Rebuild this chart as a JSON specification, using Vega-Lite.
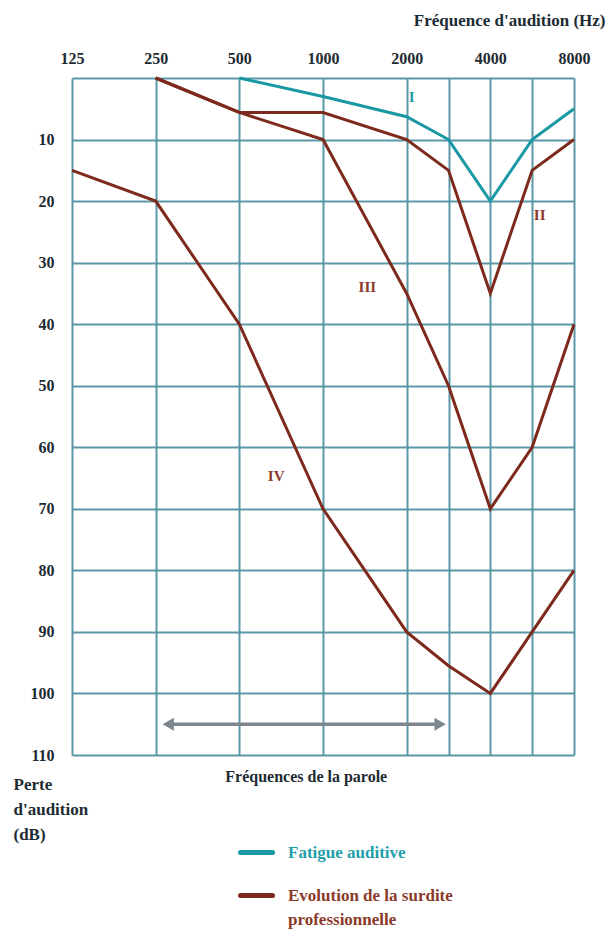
{
  "$schema": "https://vega.github.io/schema/vega-lite/v6.json",
  "width": 502,
  "height": 677,
  "autosize": {"type": "none"},
  "padding": {"left": 72, "top": 78, "right": 38, "bottom": 178},
  "background": "white",
  "config": {"view": {"stroke": null}, "font": "Liberation Serif"},
  "datasets": {
    "curves": [
      {"curve": "I", "type": "Fatigue auditive", "freq": 500, "pos": 2, "db": 0},
      {"curve": "I", "type": "Fatigue auditive", "freq": 1000, "pos": 3, "db": 3},
      {"curve": "I", "type": "Fatigue auditive", "freq": 2000, "pos": 4, "db": 6.3},
      {"curve": "I", "type": "Fatigue auditive", "freq": 3000, "pos": 4.5, "db": 10},
      {"curve": "I", "type": "Fatigue auditive", "freq": 4000, "pos": 5, "db": 20},
      {"curve": "I", "type": "Fatigue auditive", "freq": 6000, "pos": 5.5, "db": 10},
      {"curve": "I", "type": "Fatigue auditive", "freq": 8000, "pos": 6, "db": 5},
      {"curve": "II", "type": "Evolution de la surdite professionnelle", "freq": 250, "pos": 1, "db": 0},
      {"curve": "II", "type": "Evolution de la surdite professionnelle", "freq": 500, "pos": 2, "db": 5.6},
      {"curve": "II", "type": "Evolution de la surdite professionnelle", "freq": 1000, "pos": 3, "db": 5.6},
      {"curve": "II", "type": "Evolution de la surdite professionnelle", "freq": 2000, "pos": 4, "db": 10},
      {"curve": "II", "type": "Evolution de la surdite professionnelle", "freq": 3000, "pos": 4.5, "db": 15},
      {"curve": "II", "type": "Evolution de la surdite professionnelle", "freq": 4000, "pos": 5, "db": 35},
      {"curve": "II", "type": "Evolution de la surdite professionnelle", "freq": 6000, "pos": 5.5, "db": 15},
      {"curve": "II", "type": "Evolution de la surdite professionnelle", "freq": 8000, "pos": 6, "db": 10},
      {"curve": "III", "type": "Evolution de la surdite professionnelle", "freq": 250, "pos": 1, "db": 0},
      {"curve": "III", "type": "Evolution de la surdite professionnelle", "freq": 500, "pos": 2, "db": 5.6},
      {"curve": "III", "type": "Evolution de la surdite professionnelle", "freq": 1000, "pos": 3, "db": 10},
      {"curve": "III", "type": "Evolution de la surdite professionnelle", "freq": 2000, "pos": 4, "db": 35},
      {"curve": "III", "type": "Evolution de la surdite professionnelle", "freq": 3000, "pos": 4.5, "db": 50},
      {"curve": "III", "type": "Evolution de la surdite professionnelle", "freq": 4000, "pos": 5, "db": 70},
      {"curve": "III", "type": "Evolution de la surdite professionnelle", "freq": 6000, "pos": 5.5, "db": 60},
      {"curve": "III", "type": "Evolution de la surdite professionnelle", "freq": 8000, "pos": 6, "db": 40},
      {"curve": "IV", "type": "Evolution de la surdite professionnelle", "freq": 125, "pos": 0, "db": 15},
      {"curve": "IV", "type": "Evolution de la surdite professionnelle", "freq": 250, "pos": 1, "db": 20},
      {"curve": "IV", "type": "Evolution de la surdite professionnelle", "freq": 500, "pos": 2, "db": 40},
      {"curve": "IV", "type": "Evolution de la surdite professionnelle", "freq": 1000, "pos": 3, "db": 70},
      {"curve": "IV", "type": "Evolution de la surdite professionnelle", "freq": 2000, "pos": 4, "db": 90},
      {"curve": "IV", "type": "Evolution de la surdite professionnelle", "freq": 3000, "pos": 4.5, "db": 95.5},
      {"curve": "IV", "type": "Evolution de la surdite professionnelle", "freq": 4000, "pos": 5, "db": 100},
      {"curve": "IV", "type": "Evolution de la surdite professionnelle", "freq": 6000, "pos": 5.5, "db": 90},
      {"curve": "IV", "type": "Evolution de la surdite professionnelle", "freq": 8000, "pos": 6, "db": 80}
    ],
    "labels": [
      {"curve": "I", "pos": 4.06, "db": 3.1},
      {"curve": "II", "pos": 5.59, "db": 22.3},
      {"curve": "III", "pos": 3.53, "db": 34},
      {"curve": "IV", "pos": 2.44, "db": 64.7}
    ],
    "arrow": [
      {"end": "left", "pos": 1.15, "db": 105},
      {"end": "right", "pos": 4.4, "db": 105}
    ],
    "notes": [
      {"text": "Fréquences de la parole", "pos": 2.8, "db": 113.6}
    ]
  },
  "layer": [
    {
      "data": {"name": "curves"},
      "mark": {"type": "line", "strokeWidth": 3},
      "encoding": {
        "x": {
          "field": "pos", "type": "quantitative",
          "scale": {"domain": [0, 6], "nice": false, "zero": false},
          "axis": {
            "orient": "top",
            "values": [0, 1, 2, 3, 4, 4.5, 5, 5.5, 6],
            "labelExpr": "datum.value==0?'125':datum.value==1?'250':datum.value==2?'500':datum.value==3?'1000':datum.value==4?'2000':datum.value==5?'4000':datum.value==6?'8000':''",
            "grid": true, "gridColor": "#5a97a8", "gridWidth": 2, "gridOpacity": 1,
            "domain": false, "ticks": false,
            "labelFont": "Liberation Serif", "labelFontWeight": "bold", "labelFontSize": 16,
            "labelColor": "#1d2b33", "labelPadding": 12, "labelFlush": false, "labelOverlap": false,
            "title": "Fréquence d'audition (Hz)",
            "titleFont": "Liberation Serif", "titleFontWeight": "bold", "titleFontSize": 17, "titleColor": "#1d2b33",
            "titleX": 533, "titleY": -58, "titleAlign": "right", "titleBaseline": "middle"
          }
        },
        "y": {
          "field": "db", "type": "quantitative",
          "scale": {"domain": [0, 110], "reverse": true, "nice": false, "zero": false},
          "axis": {
            "values": [0, 10, 20, 30, 40, 50, 60, 70, 80, 90, 100, 110],
            "labelExpr": "datum.value==0?'':datum.label",
            "grid": true, "gridColor": "#5a97a8", "gridWidth": 2, "gridOpacity": 1,
            "domain": false, "ticks": false,
            "labelFont": "Liberation Serif", "labelFontWeight": "bold", "labelFontSize": 16,
            "labelColor": "#1d2b33", "labelPadding": 18, "labelOverlap": false,
            "title": ["Perte", "d'audition", "(dB)"],
            "titleFont": "Liberation Serif", "titleFontWeight": "bold", "titleFontSize": 17, "titleColor": "#1d2b33",
            "titleAngle": 0, "titleAlign": "left", "titleBaseline": "top",
            "titleX": -59, "titleY": 698, "titleLineHeight": 25
          }
        },
        "color": {
          "field": "type", "type": "nominal",
          "scale": {"domain": ["Fatigue auditive", "Evolution de la surdite professionnelle"], "range": ["#1a98a3", "#7d2a1c"]},
          "legend": {
            "orient": "none", "legendX": 166, "legendY": 756, "title": null, "padding": 0,
            "symbolType": "stroke", "symbolSize": 1024, "symbolStrokeWidth": 5,
            "labelFont": "Liberation Serif", "labelFontWeight": "bold", "labelFontSize": 17,
            "labelOffset": 13, "labelLimit": 0, "rowPadding": 14,
            "labelExpr": "datum.label=='Fatigue auditive'?datum.label:['Evolution de la surdite','\u00a0professionnelle']",
            "encode": {
              "labels": {"update": {"fill": {"signal": "datum.value=='Fatigue auditive'?'#1f9eaa':'#8a3a2a'"}, "lineHeight": {"value": 24}}},
              "symbols": {"update": {"strokeCap": {"value": "round"}}}
            }
          }
        },
        "detail": {"field": "curve"}
      }
    },
    {
      "data": {"name": "labels"},
      "mark": {"type": "text", "font": "Liberation Serif", "fontWeight": "bold", "fontSize": 15},
      "encoding": {
        "x": {"field": "pos", "type": "quantitative"},
        "y": {"field": "db", "type": "quantitative"},
        "text": {"field": "curve"},
        "color": {"condition": {"test": "datum.curve==='I'", "value": "#1f9eaa"}, "value": "#8a3a2a"}
      }
    },
    {
      "data": {"name": "arrow"},
      "mark": {"type": "line", "color": "#7d868c", "strokeWidth": 3.5},
      "encoding": {
        "x": {"field": "pos", "type": "quantitative"},
        "y": {"field": "db", "type": "quantitative"}
      }
    },
    {
      "data": {"name": "arrow"},
      "mark": {"type": "point", "filled": true, "color": "#7d868c", "size": 170, "opacity": 1},
      "encoding": {
        "x": {"field": "pos", "type": "quantitative"},
        "y": {"field": "db", "type": "quantitative"},
        "shape": {"field": "end", "type": "nominal", "scale": {"domain": ["left", "right"], "range": ["triangle-left", "triangle-right"]}, "legend": null}
      }
    },
    {
      "data": {"name": "notes"},
      "mark": {"type": "text", "font": "Liberation Serif", "fontWeight": "bold", "fontSize": 16, "color": "#1d2b33", "clip": false},
      "encoding": {
        "x": {"field": "pos", "type": "quantitative"},
        "y": {"field": "db", "type": "quantitative"},
        "text": {"field": "text"}
      }
    }
  ]
}
